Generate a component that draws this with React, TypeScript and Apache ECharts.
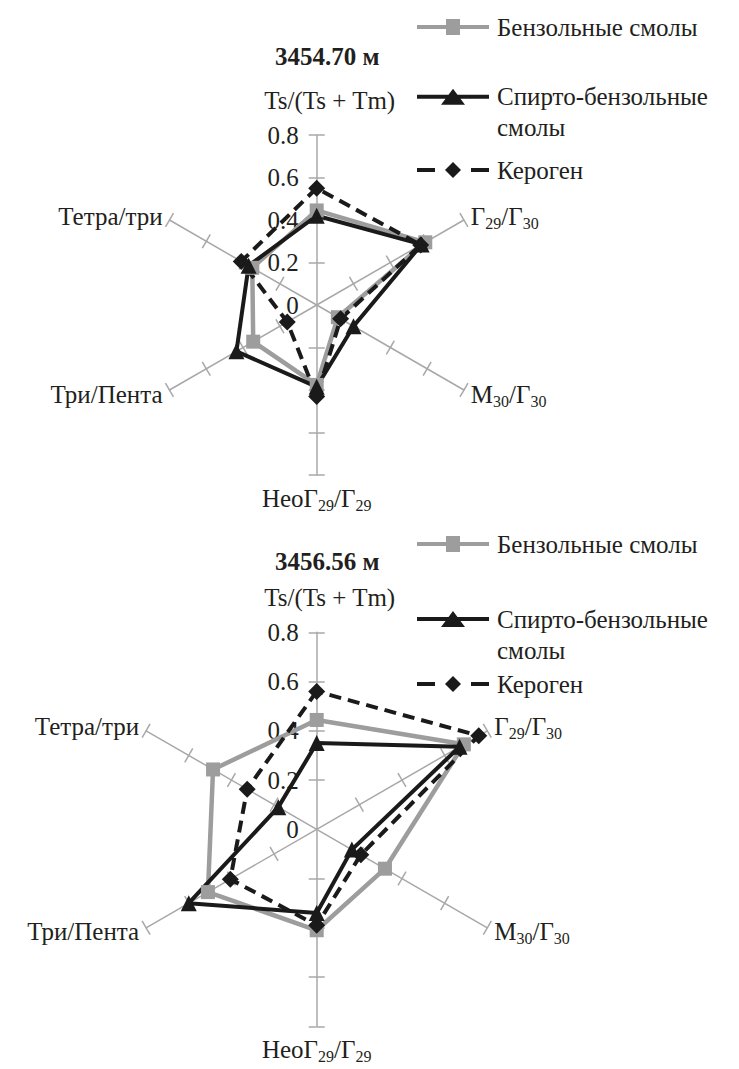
import React, { useEffect, useRef } from "react";
import * as echarts from "echarts";

// Categories in clockwise order, starting from the top axis
const categories = ["Ts/(Ts + Tm)", "Г29/Г30", "М30/Г30", "НеоГ29/Г29", "Три/Пента", "Тетра/три"];
const seriesNames = ["Бензольные смолы", "Спирто-бензольные смолы", "Кероген"];
const depthTitles = ["3454.70 м", "3456.56 м"];
const axisMax = 0.8;
const tickValues = [0.2, 0.4, 0.6, 0.8];

// Chart 1: 3454.70 м (clockwise order as categories)
const top_benz = [0.445, 0.59, 0.115, 0.376, 0.345, 0.35];
const top_spirto = [0.42, 0.57, 0.2, 0.385, 0.436, 0.37];
const top_kerogen = [0.55, 0.565, 0.13, 0.43, 0.16, 0.41];

// Chart 2: 3456.56 м
const bot_benz = [0.444, 0.69, 0.32, 0.41, 0.51, 0.486];
const bot_spirto = [0.35, 0.67, 0.165, 0.34, 0.6, 0.18];
const bot_kerogen = [0.56, 0.76, 0.207, 0.39, 0.405, 0.326];

const FONT = "Liberation Serif";
const TEXT = "#231f20";
const GRAY = "#9d9d9d";
const BLACK = "#1a1a1a";
const AXIS = "#a8a8a8";

// ECharts radar runs counter-clockwise; map clockwise categories onto it
const order = [0, 5, 4, 3, 2, 1];
const reorder = (arr: number[]) => order.map((i) => arr[i]);

const ICON_SQUARE = "path://M0,6H29V0H43V6H72V10H43V16H29V10H0Z";
const ICON_TRI = "path://M0,6H31.5L36,0L40.5,6H72V10H43.5L48,16H24L28.5,10H0Z";
const ICON_DIAM = "path://M0,6H18V10H0Z M54,6H72V10H54Z M36,0L44,8L36,16L28,8Z";

function makeIndicators(topGap: number, bottomGap: number, withLabel: boolean) {
  return order.map((i) => {
    const ind: any = { name: categories[i], max: axisMax, min: 0 };
    if (i === 0) {
      ind.nameGap = topGap;
      ind.nameTextStyle = { padding: [0, 0, 0, 26] };
      if (withLabel) ind.axisLabel = { show: true };
    }
    if (i === 3) ind.nameGap = bottomGap;
    return ind;
  });
}

function makeRadar(center: number[], radius: number, topGap: number, bottomGap: number, mirror: boolean) {
  return {
    center,
    radius,
    startAngle: 90,
    splitNumber: 4,
    shape: "polygon",
    indicator: makeIndicators(topGap, bottomGap, !mirror),
    nameGap: 8,
    axisName: mirror
      ? { show: false }
      : {
          show: true,
          color: TEXT,
          fontFamily: FONT,
          fontSize: 25,
          lineHeight: 30,
          formatter: (name: string) => name.replace(/(\d+)/g, "{sub|$1}"),
          rich: {
            sub: { fontFamily: FONT, fontSize: 16, color: TEXT, verticalAlign: "bottom", lineHeight: 12 },
          },
        },
    splitLine: { show: false },
    splitArea: { show: false },
    axisLine: { show: !mirror, lineStyle: { color: AXIS, width: 1.5 } },
    axisTick: {
      show: true,
      length: mirror ? -8 : 8,
      customValues: tickValues,
      lineStyle: { color: AXIS, width: 1.5 },
    },
    axisLabel: {
      show: false,
      color: TEXT,
      fontFamily: FONT,
      fontSize: 25,
      margin: 18,
      formatter: (v: number) => String(Math.round(v * 10) / 10),
    },
  };
}

function makeSeries(radarIndex: number, b: number[], s: number[], k: number[]) {
  return {
    type: "radar",
    radarIndex,
    emphasis: { disabled: true },
    data: [
      {
        name: seriesNames[0],
        value: reorder(b),
        symbol: "rect",
        symbolSize: 14,
        itemStyle: { color: GRAY },
        lineStyle: { color: GRAY, width: 4.5, type: "solid" },
      },
      {
        name: seriesNames[1],
        value: reorder(s),
        symbol: "triangle",
        symbolSize: 16,
        itemStyle: { color: BLACK },
        lineStyle: { color: BLACK, width: 4, type: "solid" },
      },
      {
        name: seriesNames[2],
        value: reorder(k),
        symbol: "diamond",
        symbolSize: 17,
        itemStyle: { color: BLACK },
        lineStyle: { color: BLACK, width: 4, type: [12, 7] },
      },
    ],
  };
}

const icons = [ICON_SQUARE, ICON_TRI, ICON_DIAM];

function makeLegend(idx: number, top: number) {
  return {
    data: [seriesNames[idx]],
    left: 417,
    top,
    orient: "vertical",
    padding: 0,
    itemWidth: 72,
    itemHeight: 16,
    icon: icons[idx],
    selectedMode: false,
    itemStyle: { borderWidth: 0 },
    // the two-line entry starts on the icon's line: an empty first line keeps it centred there
    formatter: (name: string) => (name === seriesNames[1] ? "\nСпирто-бензольные\nсмолы" : name),
    textStyle: {
      color: TEXT,
      fontFamily: FONT,
      fontSize: 25,
      lineHeight: 31,
      padding: [0, 0, 0, 3],
    },
  };
}

export default function App() {
  const ref = useRef<HTMLDivElement>(null);
  useEffect(() => {
    document.body.style.margin = "0";
    if (!ref.current) return;
    const chart = echarts.init(ref.current, null, { renderer: "svg" });
    const titleStyle = { fontFamily: FONT, fontSize: 25, fontWeight: "bold", color: TEXT, lineHeight: 30 };
    chart.setOption({
      animation: false,
      backgroundColor: "#ffffff",
      textStyle: { fontFamily: FONT },
      title: [
        { text: depthTitles[0], left: 275, top: 41, padding: 0, textStyle: titleStyle },
        { text: depthTitles[1], left: 275, top: 546, padding: 0, textStyle: titleStyle },
      ],
      legend: [
        makeLegend(0, 11.5),
        makeLegend(1, 50.2),
        makeLegend(2, 154.5),
        makeLegend(0, 528.5),
        makeLegend(1, 572.5),
        makeLegend(2, 668.5),
      ],
      radar: [
        makeRadar([316.7, 305], 170, 20, 8, false),
        makeRadar([316.7, 305], 170, 20, 8, true),
        makeRadar([316.7, 829.3], 197, 20, 8, false),
        makeRadar([316.7, 829.3], 197, 20, 8, true),
      ],
      series: [
        makeSeries(0, top_benz, top_spirto, top_kerogen),
        makeSeries(2, bot_benz, bot_spirto, bot_kerogen),
      ],
    });
    return () => chart.dispose();
  }, []);
  return <div ref={ref} style={{ width: 739, height: 1069 }} />;
}
